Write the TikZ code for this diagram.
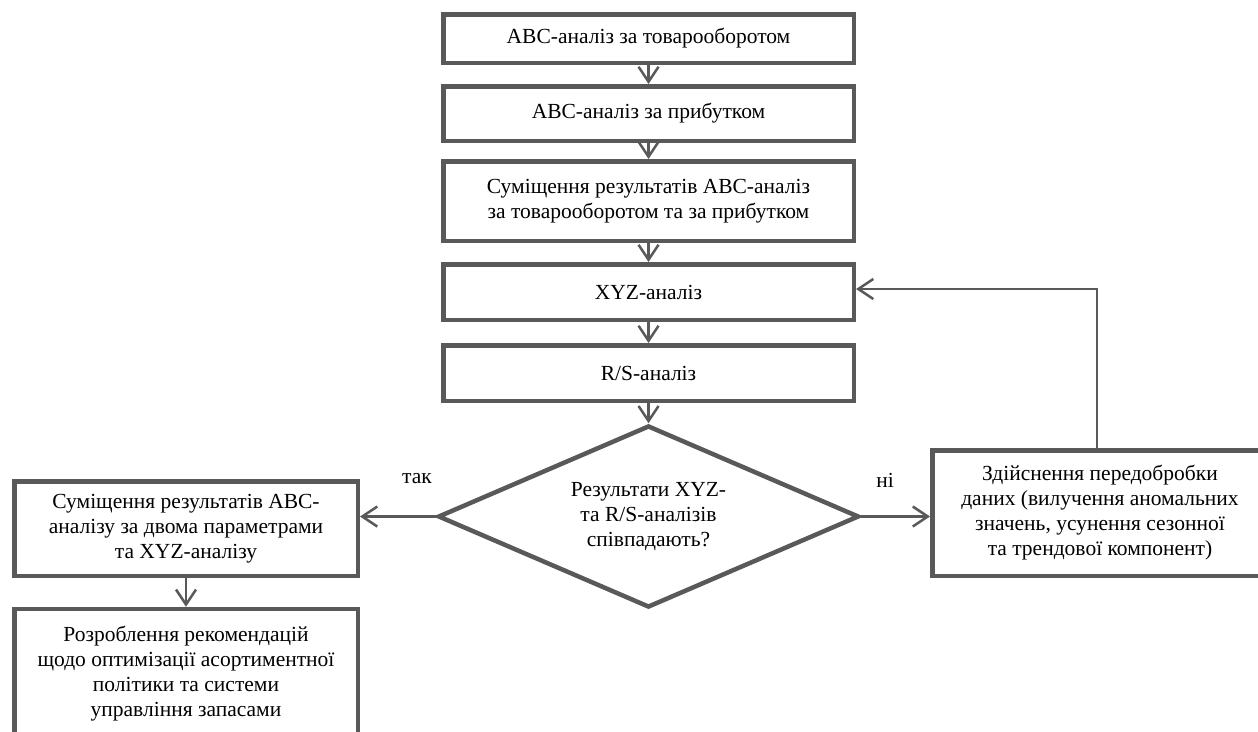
\documentclass[tikz,border=0pt]{standalone}
\usepackage{fontspec}
\setmainfont{Liberation Serif}
\usepackage{tikz}
\usetikzlibrary{shapes.geometric,arrows.meta}
\definecolor{FlowGray}{RGB}{89,89,89}

\begin{document}
\begin{tikzpicture}[x=1pt,y=-1pt,
    procbox/.style={draw=FlowGray,line width=4.5pt,fill=white,align=center,inner sep=0pt,font=\fontsize{21.5}{25}\selectfont},
    decision/.style={draw=FlowGray,line width=4.5pt,diamond,shape aspect=2.3,inner sep=0pt,align=center,font=\fontsize{21.5}{25}\selectfont,minimum width=421pt,minimum height=182pt},
    flowline/.style={draw=FlowGray,line width=2.5pt,-{Straight Barb[length=15pt,width=20pt,line width=2.5pt]}},
    answer/.style={font=\fontsize{21.5}{25}\selectfont,inner sep=0pt}]
      \useasboundingbox (0,0) rectangle (1258,731);
      \node[procbox,minimum width=410.5pt,minimum height=48.5pt] (turn) at (648.5,38.5) {АВС-аналіз за товарооборотом};
      \node[procbox,minimum width=410.5pt,minimum height=54.5pt] (profit) at (648.5,113.5) {АВС-аналіз за прибутком};
      \node[procbox,minimum width=410.5pt,minimum height=79.5pt] (abcmix) at (648.5,201) {Суміщення результатів АВС-аналіз\\за товарооборотом та за прибутком};
      \node[procbox,minimum width=410.5pt,minimum height=55.5pt] (xyz) at (648.5,292) {XYZ-аналіз};
      \node[procbox,minimum width=410.5pt,minimum height=55.5pt] (rs) at (648.5,373) {R/S-аналіз};
      \node[decision] (match) at (648.5,516.5) {Результати XYZ-\\та R/S-аналізів\\співпадають?};
      \node[procbox,minimum width=343.5pt,minimum height=94.5pt] (allmix) at (186,528.5) {Суміщення результатів АВС-\\аналізу за двома параметрами\\та XYZ-аналізу};
      \node[procbox,minimum width=343.5pt,minimum height=130pt] (advice) at (186,674) {Розроблення рекомендацій\\щодо оптимізації асортиментної\\політики та системи\\управління запасами};
      \node[procbox,minimum width=335.5pt,minimum height=125.5pt] (prep) at (1100,513) {Здійснення передобробки\\даних (вилучення аномальних\\значень, усунення сезонної\\та трендової компонент)};
      \node[answer] (yes) at (417,479) {так};
      \node[answer] (no) at (885,480) {ні};
      \draw[flowline] (turn) -- (profit);
      \draw[flowline] (profit) -- (abcmix);
      \draw[flowline] (abcmix) -- (xyz);
      \draw[flowline] (xyz) -- (rs);
      \draw[flowline] (rs) -- (match);
      \draw[flowline] (match.west) -- (match.west -| allmix.east);
      \draw[flowline] (match.east) -- (match.east -| prep.west);
      \draw[flowline] (allmix) -- (advice);
      \draw[flowline] ([xshift=-3pt]prep.north) |- ([yshift=3pt]xyz.east);
    \end{tikzpicture}
\end{document}
